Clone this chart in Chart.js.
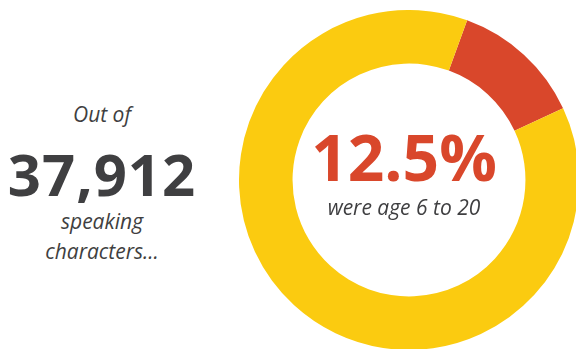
<!DOCTYPE html>
<html>
<head>
<meta charset="utf-8">
<script src="https://cdn.jsdelivr.net/npm/chart.js@4"></script>
<style>
  html, body { margin: 0; padding: 0; background: #fff; }
  body { width: 576px; height: 349px; overflow: hidden; position: relative; font-family: "Open Sans", sans-serif; color: #3f3f41; }
  #wrap { position: absolute; left: 239px; top: 10px; width: 340px; height: 340px; }
  .left { position: absolute; left: 0; width: 204px; text-align: center; }
  #outOf { top: 100px; font-size: 21px; font-style: italic; }
  #total { top: 134px; font-size: 58px; font-weight: 700; letter-spacing: 1px; }
  #speaking { top: 206px; font-size: 21px; font-style: italic; line-height: 30px; }
  .mid { position: absolute; left: 300px; width: 208px; text-align: center; }
  #pct { top: 113px; font-size: 64px; font-weight: 700; color: #d9472b; }
  #sub { top: 193px; font-size: 21px; font-style: italic; }
</style>
</head>
<body>
<div id="wrap"><canvas id="myChart"></canvas></div>
<div class="left" id="outOf">Out of</div>
<div class="left" id="total">37,912</div>
<div class="left" id="speaking">speaking<br>characters...</div>
<div class="mid" id="pct">12.5%</div>
<div class="mid" id="sub">were age 6 to 20</div>
<script>
// data
const labels = ["Age 6 to 20", "Other ages"];
const shares = [12.5, 87.5];
const colors = ["#d9472b", "#fbcb10"];

// config
const config = {
  type: "doughnut",
  data: {
    labels: labels,
    datasets: [
      {
        data: shares,
        backgroundColor: colors,
        borderWidth: 0,
      },
    ],
  },
  options: {
    responsive: true,
    maintainAspectRatio: false,
    animation: false,
    rotation: 20,
    cutout: "68.5%",
    layout: { padding: 0 },
    plugins: {
      legend: { display: false },
      tooltip: { enabled: false },
    },
  },
};

const myChart = new Chart(document.getElementById("myChart"), config);
</script>
</body>
</html>
